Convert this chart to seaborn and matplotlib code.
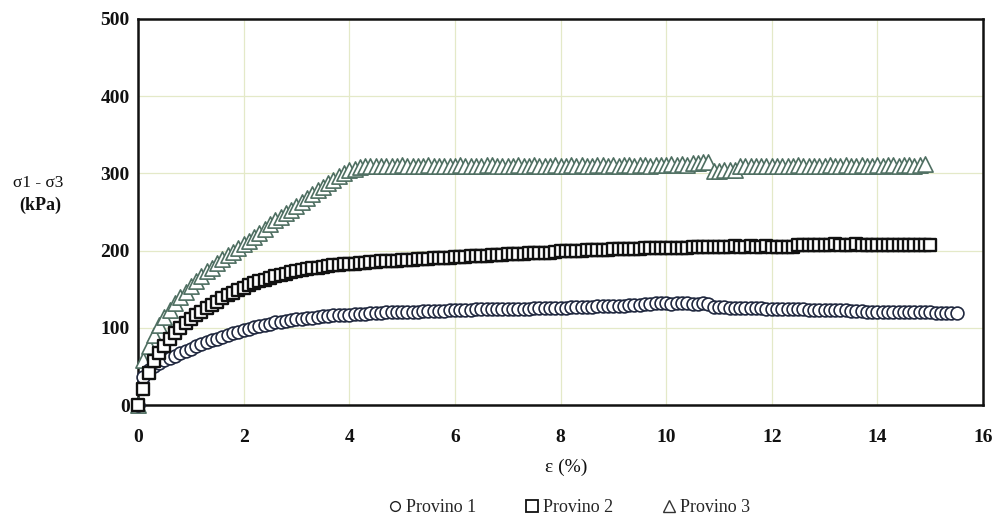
import matplotlib
matplotlib.use("Agg")
import matplotlib.pyplot as plt
import seaborn as sns
import pandas as pd
from matplotlib.lines import Line2D

# ---------------- data ----------------
strain = [
    0.0, 0.1, 0.2, 0.3, 0.4, 0.5, 0.6, 0.7, 0.8, 0.9,
    1.0, 1.1, 1.2, 1.3, 1.4, 1.5, 1.6, 1.7, 1.8, 1.9,
    2.0, 2.1, 2.2, 2.3, 2.4, 2.5, 2.6, 2.7, 2.8, 2.9,
    3.0, 3.1, 3.2, 3.3, 3.4, 3.5, 3.6, 3.7, 3.8, 3.9,
    4.0, 4.1, 4.2, 4.3, 4.4, 4.5, 4.6, 4.7, 4.8, 4.9,
    5.0, 5.1, 5.2, 5.3, 5.4, 5.5, 5.6, 5.7, 5.8, 5.9,
    6.0, 6.1, 6.2, 6.3, 6.4, 6.5, 6.6, 6.7, 6.8, 6.9,
    7.0, 7.1, 7.2, 7.3, 7.4, 7.5, 7.6, 7.7, 7.8, 7.9,
    8.0, 8.1, 8.2, 8.3, 8.4, 8.5, 8.6, 8.7, 8.8, 8.9,
    9.0, 9.1, 9.2, 9.3, 9.4, 9.5, 9.6, 9.7, 9.8, 9.9,
    10.0, 10.1, 10.2, 10.3, 10.4, 10.5, 10.6, 10.7, 10.8, 10.9,
    11.0, 11.1, 11.2, 11.3, 11.4, 11.5, 11.6, 11.7, 11.8, 11.9,
    12.0, 12.1, 12.2, 12.3, 12.4, 12.5, 12.6, 12.7, 12.8, 12.9,
    13.0, 13.1, 13.2, 13.3, 13.4, 13.5, 13.6, 13.7, 13.8, 13.9,
    14.0, 14.1, 14.2, 14.3, 14.4, 14.5, 14.6, 14.7, 14.8, 14.9,
    15.0, 15.1, 15.2, 15.3, 15.4, 15.5,
]

provino_1 = [
    0, 36, 45, 50, 54, 58, 61, 64, 67, 70,
    73, 76, 79, 81, 84, 86, 88, 91, 93, 95,
    97, 99, 101, 102, 104, 105, 107, 108, 109, 110,
    111, 112, 113, 113, 114, 115, 115, 116, 116, 117,
    117, 118, 118, 118, 119, 119, 119, 120, 120, 120,
    121, 121, 121, 121, 122, 122, 122, 122, 122, 123,
    123, 123, 123, 123, 124, 124, 124, 124, 124, 125,
    125, 125, 125, 125, 125, 126, 126, 126, 126, 126,
    126, 126, 127, 127, 127, 127, 127, 128, 128, 128,
    128, 128, 128, 129, 129, 129, 131, 131, 132, 132,
    132, 131, 132, 132, 132, 131, 131, 132, 131, 127,
    127, 127, 126, 126, 126, 126, 126, 126, 126, 125,
    125, 124, 124, 124, 124, 124, 124, 123, 123, 123,
    123, 123, 123, 123, 123, 122, 122, 122, 121, 121,
    121, 121, 121, 121, 120, 120, 120, 120, 120, 120,
    120, 119, 119, 119, 119, 119,
]

provino_2 = [
    0, 21, 42, 57, 67, 76, 85, 93, 100, 106,
    111, 116, 121, 126, 130, 134, 138, 142, 145, 149,
    152, 155, 158, 160, 162, 165, 167, 169, 170, 172,
    173, 175, 176, 177, 178, 179, 180, 181, 181, 182,
    183, 183, 184, 184, 185, 185, 186, 186, 186, 187,
    188, 188, 188, 189, 189, 189, 190, 190, 190, 190,
    192, 192, 192, 193, 193, 193, 193, 194, 194, 194,
    196, 196, 196, 196, 197, 197, 197, 197, 197, 198,
    200, 200, 200, 200, 200, 201, 201, 201, 201, 201,
    202, 202, 202, 202, 202, 202, 204, 204, 204, 204,
    204, 204, 204, 204, 204, 205, 205, 205, 205, 205,
    205, 205, 205, 206, 205, 205, 206, 205, 205, 206,
    205, 205, 205, 205, 205, 207, 207, 207, 207, 207,
    207, 207, 208, 207, 207, 207, 208, 207, 207, 207,
    207, 207, 207, 207, 207, 207, 207, 207, 207, 207,
    207,
]

provino_3 = [
    0, 58, 76, 91, 104, 114, 123, 132, 140, 147,
    154, 161, 167, 173, 178, 184, 189, 194, 198, 203,
    208, 213, 218, 223, 228, 234, 239, 244, 249, 253,
    258, 263, 268, 273, 278, 283, 287, 292, 297, 301,
    304, 306, 308, 309, 309, 310, 310, 309, 310, 310,
    311, 310, 309, 310, 310, 311, 310, 310, 309, 310,
    310, 311, 310, 309, 310, 310, 311, 311, 310, 310,
    309, 310, 311, 310, 310, 311, 310, 309, 310, 311,
    310, 310, 311, 310, 311, 310, 310, 311, 311, 310,
    311, 310, 311, 311, 310, 311, 311, 310, 311, 311,
    311, 312, 311, 312, 311, 313, 314, 315, 315, 303,
    303, 304, 304, 305, 309, 310, 309, 310, 310, 309,
    310, 310, 309, 310, 310, 311, 310, 310, 309, 310,
    310, 311, 310, 310, 311, 310, 310, 311, 310, 310,
    311, 310, 311, 311, 310, 311, 311, 310, 311, 312,
]

series_labels = ["Provino 1", "Provino 2", "Provino 3"]
x_ticks = [0, 2, 4, 6, 8, 10, 12, 14, 16]
y_ticks = [0, 100, 200, 300, 400, 500]

# ---------------- style ----------------
sns.set_theme(style="white")
plt.rcParams["font.family"] = ["Liberation Serif", "DejaVu Serif"]

fig = plt.figure(figsize=(9.97, 5.23), dpi=100)
ax = fig.add_axes([0.1384, 0.2256, 0.8476, 0.7381])

frames = {
    "Provino 1": pd.DataFrame({"strain": strain[:len(provino_1)], "stress": provino_1}),
    "Provino 2": pd.DataFrame({"strain": strain[:len(provino_2)], "stress": provino_2}),
    "Provino 3": pd.DataFrame({"strain": strain[:len(provino_3)], "stress": provino_3}),
}

styles = {
    "Provino 3": dict(marker="^", edgecolor="#4f6f62", linewidth=1.2, s=120),
    "Provino 1": dict(marker="o", edgecolor="#20283f", linewidth=1.2, s=85),
    "Provino 2": dict(marker="s", edgecolor="#111111", linewidth=1.7, s=72),
}

for name in ["Provino 3", "Provino 1", "Provino 2"]:
    st = styles[name]
    sns.scatterplot(data=frames[name], x="strain", y="stress", ax=ax,
                    marker=st["marker"], s=st["s"], facecolor="white",
                    edgecolor=st["edgecolor"], linewidth=st["linewidth"],
                    legend=False, zorder=3, clip_on=False)

ax.set_xlim(0, 16)
ax.set_ylim(0, 500)
ax.set_xticks(x_ticks)
ax.set_yticks(y_ticks)
ax.set_xticklabels([str(t) for t in x_ticks], fontweight="bold")
ax.set_yticklabels([str(t) for t in y_ticks], fontweight="bold")
ax.tick_params(axis="both", length=0, labelsize=14, colors="#111111")
ax.tick_params(axis="x", pad=17)
ax.tick_params(axis="y", pad=6)
ax.set_xlabel("")
ax.set_ylabel("")
ax.grid(True, color="#e4e9c8", linewidth=0.9)
ax.set_axisbelow(True)
for sp in ax.spines.values():
    sp.set_visible(True)
    sp.set_color("#111111")
    sp.set_linewidth(1.8)
    sp.set_zorder(2)

fig.text(38 / 997, 1 - 183 / 523, "σ1 - σ3", ha="center", va="center",
         fontsize=12.5, color="#111111")
fig.text(40 / 997, 1 - 205 / 523, "(kPa)", ha="center", va="center",
         fontsize=13, fontweight="bold", color="#111111")
fig.text(566 / 997, 1 - 467 / 523, "ε (%)", ha="center", va="center",
         fontsize=14, color="#111111")

handles = [
    Line2D([], [], marker="o", ls="none", mfc="white", mec="#222222", ms=7, mew=1.0),
    Line2D([], [], marker="s", ls="none", mfc="white", mec="#111111", ms=8, mew=1.3),
    Line2D([], [], marker="^", ls="none", mfc="white", mec="#333333", ms=8, mew=1.0),
]
fig.legend(handles, series_labels, loc="center", bbox_to_anchor=(568 / 997, 1 - 508 / 523),
           ncol=3, frameon=False, fontsize=13, handletextpad=0.1,
           columnspacing=2.6, handlelength=1.0)

fig.savefig("out.png", dpi=100, facecolor="white")
